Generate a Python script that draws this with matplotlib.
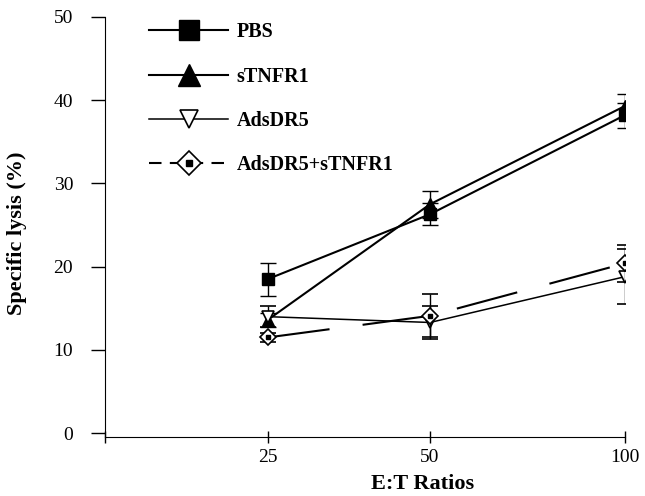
import matplotlib.pyplot as plt
from matplotlib.lines import Line2D

# E:T ratios and where they sit on the axis (spacing is uneven in the original)
ratios = ["25", "50", "100"]
ratio_pos = [1, 2, 3.2]

pbs = [18.5, 26.3, 38.2]
pbs_err = [2.0, 1.3, 1.5]
stnfr1 = [13.6, 27.5, 39.3]
stnfr1_err = [0.8, 1.6, 1.4]
adsdr5 = [14.0, 13.3, 18.8]
adsdr5_err = [1.3, 2.0, 3.3]
combo = [11.5, 14.1, 20.4]
combo_err = [0.5, 2.6, 2.2]

plt.rcParams["font.family"] = ["Liberation Serif", "DejaVu Serif"]

fig = plt.figure(figsize=(6.45, 4.96), dpi=100)
ax = fig.add_axes([0.163, 0.119, 0.806, 0.847])

eb = dict(color="black", elinewidth=1, capsize=6, capthick=1)

ax.errorbar(ratio_pos, pbs, yerr=pbs_err, marker="s", ms=8, lw=1.5,
            mfc="black", mec="black", **eb, zorder=3)
ax.errorbar(ratio_pos, stnfr1, yerr=stnfr1_err, marker="^", ms=9, lw=1.5,
            mfc="black", mec="black", **eb, zorder=3)
ax.errorbar(ratio_pos, adsdr5, yerr=adsdr5_err, marker="v", ms=8, lw=1.1,
            mfc="white", mec="black", mew=1.2, **eb, zorder=3)
ax.errorbar(ratio_pos, combo, yerr=combo_err, marker="D", ms=8, lw=1.5,
            ls=(0, (30, 16)), mfc="white", mec="black", mew=1.2, **eb, zorder=4)
ax.plot(ratio_pos, combo, ls="none", marker="s", ms=3, color="black", zorder=5)

# legend handles drawn bigger, like the original
h_pbs = Line2D([], [], color="black", lw=1.5, marker="s", ms=14)
h_st = Line2D([], [], color="black", lw=1.5, marker="^", ms=16)
h_ad = Line2D([], [], color="black", lw=1.1, marker="v", ms=13,
              mfc="white", mew=1.2)
h_co = Line2D([], [], color="black", lw=1.5, ls=(0, (6, 4)), marker="D",
              ms=12, mfc="white", mew=1.2)
h_co_dot = Line2D([], [], ls="none", marker="s", ms=4, color="black")
ax.legend([h_pbs, h_st, h_ad, (h_co, h_co_dot)],
          ["PBS", "sTNFR1", "AdsDR5", "AdsDR5+sTNFR1"],
          loc="upper left", bbox_to_anchor=(0.05, 1.03), frameon=False,
          prop={"weight": "bold", "size": 14.5}, handlelength=3.9,
          handletextpad=0.45, labelspacing=1.2)

ax.set_xlim(0, 3.2)
ax.set_ylim(-0.45, 50)
ax.set_xticks([0] + ratio_pos)
ax.set_xticklabels([""] + ratios)
ax.set_yticks([0, 10, 20, 30, 40, 50])
ax.tick_params(axis="x", direction="inout", length=8, width=1, labelsize=14, pad=5)
ax.tick_params(axis="y", direction="out", length=10, width=1, labelsize=14, pad=13)

for s in ["top", "right"]:
    ax.spines[s].set_visible(False)

ax.set_xlabel("E:T Ratios", fontsize=16, fontweight="bold")
ax.xaxis.set_label_coords(0.61, -0.088)
ax.set_ylabel("Specific lysis (%)", fontsize=16, fontweight="bold")
ax.yaxis.set_label_coords(-0.15, 0.484)

plt.savefig("out.png", dpi=100)
